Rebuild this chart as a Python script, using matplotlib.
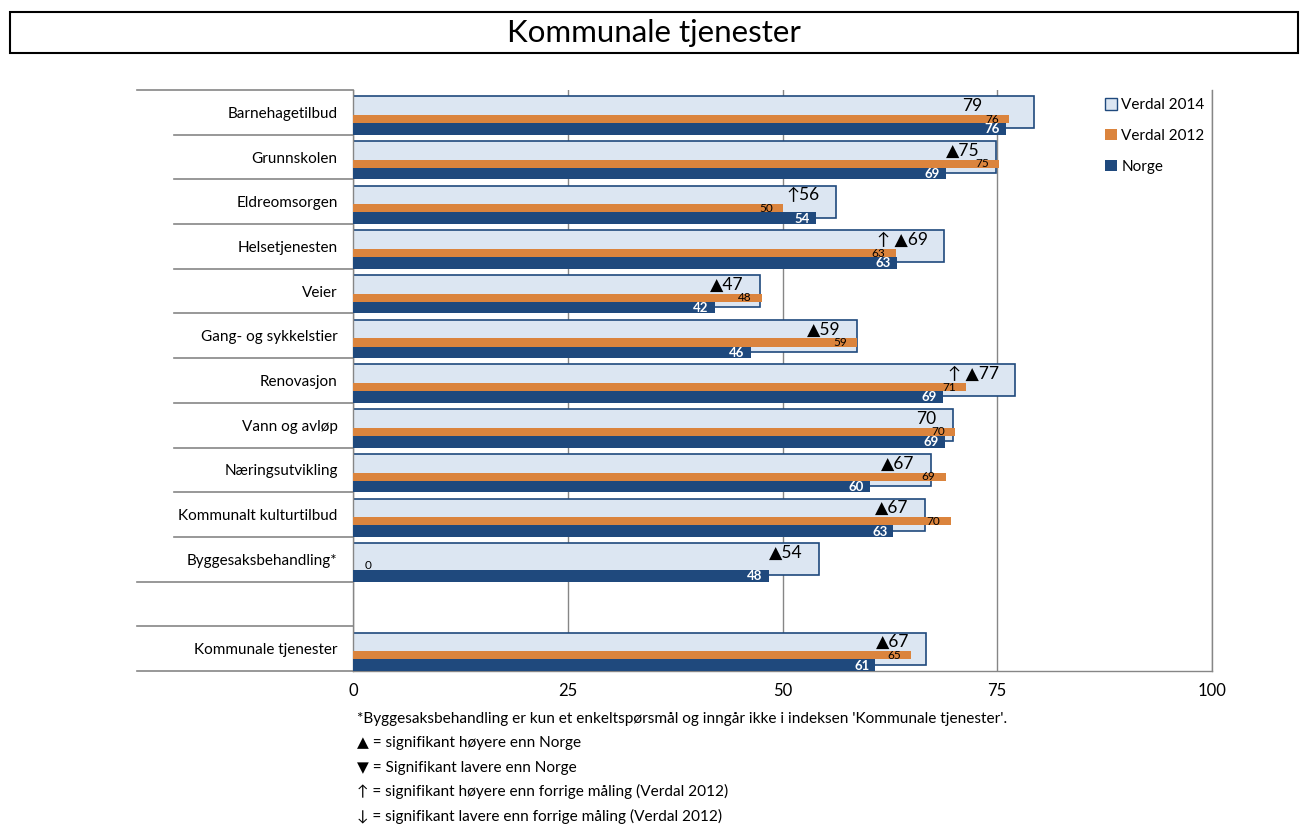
import numpy as np
import matplotlib.pyplot as plt
from matplotlib.patches import Patch, Rectangle
import matplotlib.transforms as mtransforms

plt.rcParams['font.family'] = ['Lato', 'DejaVu Sans']

# data
categories = ['Barnehagetilbud', 'Grunnskolen', 'Eldreomsorgen', 'Helsetjenesten',
              'Veier', 'Gang- og sykkelstier', 'Renovasjon', 'Vann og avløp',
              'Næringsutvikling', 'Kommunalt kulturtilbud', 'Byggesaksbehandling*',
              '', 'Kommunale tjenester']
verdal2014 = [79.3, 74.9, 56.2, 68.8, 47.4, 58.7, 77.1, 69.8, 67.3, 66.6, 54.2, np.nan, 66.7]
verdal2012 = [76.4, 75.2, 50.1, 63.2, 47.6, 58.7, 71.4, 70.1, 69.0, 69.6, 0.0, np.nan, 65.0]
norge = [76.0, 69.0, 53.9, 63.3, 42.1, 46.3, 68.7, 68.9, 60.2, 62.9, 48.4, np.nan, 60.8]
marks = ['', '▲', '↑', '↑ ▲', '▲', '▲', '↑ ▲', '', '▲', '▲', '▲', '', '▲']
footnotes = ["*Byggesaksbehandling er kun et enkeltspørsmål og inngår ikke i indeksen 'Kommunale tjenester'.",
             '▲ = signifikant høyere enn Norge',
             '▼ = Signifikant lavere enn Norge',
             '↑ = signifikant høyere enn forrige måling (Verdal 2012)',
             '↓ = signifikant lavere enn forrige måling (Verdal 2012)']

light = '#DCE6F2'
navy = '#1F497D'
orange = '#DB843D'
grey = '#868686'

fig = plt.figure(figsize=(13.07, 8.38), dpi=100)
ax = fig.add_axes([0.2701, 0.1993, 0.6572, 0.6933])

y = np.arange(len(categories))
ax.barh(y, verdal2014, height=0.716, color=light, edgecolor=navy, linewidth=1.2, zorder=2)
ax.barh(y + 0.15, verdal2012, height=0.18, color=orange, zorder=3)
ax.barh(y + 0.37, norge, height=0.26, color=navy, zorder=3)

for i in range(len(categories)):
    v = verdal2014[i]
    if np.isnan(v):
        continue
    lab = f'{marks[i]}{v:.0f}'
    # the first label sits further in from the bar end
    off = 6.0 if i == 0 else 1.9
    ax.text(v - off, i - 0.14, lab, ha='right', va='center',
            fontsize=12.5, color='black', zorder=5)
    o = verdal2012[i]
    if o == 0:
        ax.text(1.7, i + 0.15, '0', ha='center', va='center', fontsize=8.5, zorder=5)
    else:
        ax.text(o - 1.2, i + 0.15, f'{o:.0f}', ha='right', va='center', fontsize=8.5, zorder=5)
    n = norge[i]
    ax.text(n - 0.7, i + 0.38, f'{n:.0f}', ha='right', va='center', fontsize=9.5,
            color='white', fontweight='bold', zorder=5)

ax.set_xlim(0, 100)
ax.set_ylim(len(categories) - 0.5, -0.5)
ax.set_xticks([0, 25, 50, 75, 100])
ax.set_xticklabels(['0', '25', '50', '75', '100'], fontsize=12)
ax.set_yticks(y)
ax.set_yticklabels(categories, fontsize=11)
ax.tick_params(axis='y', length=0, pad=11)
ax.tick_params(axis='x', length=0, pad=9)
ax.xaxis.grid(True, color=grey, linewidth=1)
ax.set_axisbelow(True)
ax.spines['top'].set_visible(False)
for s in ['left', 'bottom', 'right']:
    ax.spines[s].set_color(grey)
    ax.spines[s].set_linewidth(1)

# separator lines in the label column
trans = mtransforms.blended_transform_factory(ax.transAxes, ax.transData)
for k in range(len(categories) + 1):
    yy = k - 0.5
    x0 = -0.2515 if k in (0, 11, 12, 13) else -0.2084
    ax.plot([x0, 0], [yy, yy], color=grey, linewidth=1.2, transform=trans, clip_on=False)

handles = [Patch(facecolor=light, edgecolor=navy, linewidth=1),
           Patch(facecolor=orange), Patch(facecolor=navy)]
fig.legend(handles, ['Verdal 2014', 'Verdal 2012', 'Norge'], loc='upper left',
           bbox_to_anchor=(0.835, 0.899), frameon=False, fontsize=11,
           handlelength=0.75, handleheight=0.75, handletextpad=0.3, labelspacing=1.1)

# title box
fig.patches.append(Rectangle((0.0077, 0.9368), 0.9855, 0.0489, transform=fig.transFigure,
                             facecolor='white', edgecolor='black', linewidth=1.5))
fig.text(0.5, 0.9606, 'Kommunale tjenester', ha='center', va='center', fontsize=22.5)

for j, line in enumerate(footnotes):
    fig.text(0.273, 1 - (719 + 24.3 * j) / 838, line, ha='left', va='center', fontsize=11.1)

fig.savefig('out.png', dpi=100)
